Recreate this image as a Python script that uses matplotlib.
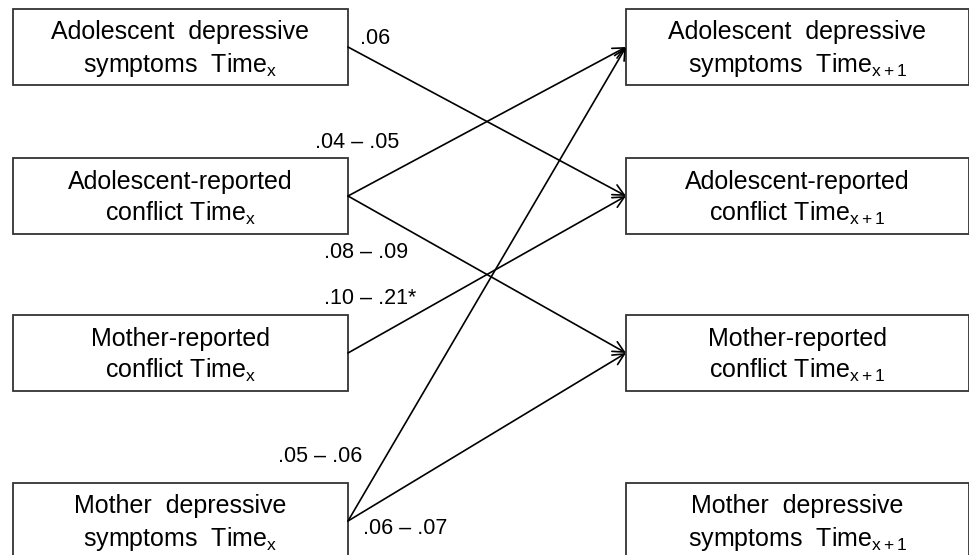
import matplotlib
matplotlib.use('Agg')
import matplotlib.pyplot as plt
from matplotlib.patches import Rectangle, FancyArrowPatch

plt.rcParams['font.family'] = ['Liberation Sans', 'DejaVu Sans']
plt.rcParams['mathtext.fontset'] = 'custom'
plt.rcParams['mathtext.rm'] = 'Liberation Sans'
plt.rcParams['mathtext.it'] = 'Liberation Sans'

# Variables at Time x (left) and Time x+1 (right)
left_names = ['Adolescent  depressive\nsymptoms  Time$_{\\mathrm{x}}$',
              'Adolescent-reported\nconflict Time$_{\\mathrm{x}}$',
              'Mother-reported\nconflict Time$_{\\mathrm{x}}$',
              'Mother  depressive\nsymptoms  Time$_{\\mathrm{x}}$']
right_names = ['Adolescent  depressive\nsymptoms  Time$_{\\mathrm{x+1}}$',
               'Adolescent-reported\nconflict Time$_{\\mathrm{x+1}}$',
               'Mother-reported\nconflict Time$_{\\mathrm{x+1}}$',
               'Mother  depressive\nsymptoms  Time$_{\\mathrm{x+1}}$']

# cross-lagged paths: (from left row, to right row)
paths = [(0, 1), (1, 0), (1, 2), (2, 1), (3, 0), (3, 2)]
path_labels = ['.06', '.04 \u2013 .05', '.08 \u2013 .09', '.10 \u2013 .21*',
               '.05 \u2013 .06', '.06 \u2013 .07']
label_xy = [(375, 38), (357, 143), (366, 252), (370, 299), (320, 456), (405, 529)]

# layout (pixel coords)
row_y = [47, 196, 353, 521]
box_h = 76
left_x0, left_x1 = 13, 348
right_x0, right_x1 = 626, 969

fig = plt.figure(figsize=(9.7, 5.55), dpi=100)
ax = fig.add_axes([0, 0, 1, 1])
ax.set_xlim(0, 970)
ax.set_ylim(555, 0)
ax.axis('off')

for names, x0, x1 in [(left_names, left_x0, left_x1), (right_names, right_x0, right_x1)]:
    for name, y in zip(names, row_y):
        ax.add_patch(Rectangle((x0, y - box_h / 2), x1 - x0, box_h,
                               facecolor='white', edgecolor='#333333', lw=1.3))
        ax.text((x0 + x1) / 2, y + 2.5, name, ha='center', va='center',
                fontsize=18, linespacing=1.32, color='black')

for (a, b) in paths:
    arr = FancyArrowPatch((left_x1, row_y[a]), (right_x0, row_y[b]),
                          arrowstyle='->,head_length=0.45,head_width=0.22',
                          mutation_scale=18, shrinkA=0, shrinkB=0,
                          lw=1.2, color='black')
    ax.add_patch(arr)

for lab, (x, y) in zip(path_labels, label_xy):
    ax.text(x, y, lab, ha='center', va='center', fontsize=15.5, color='black')

fig.savefig('out.png', dpi=100)
